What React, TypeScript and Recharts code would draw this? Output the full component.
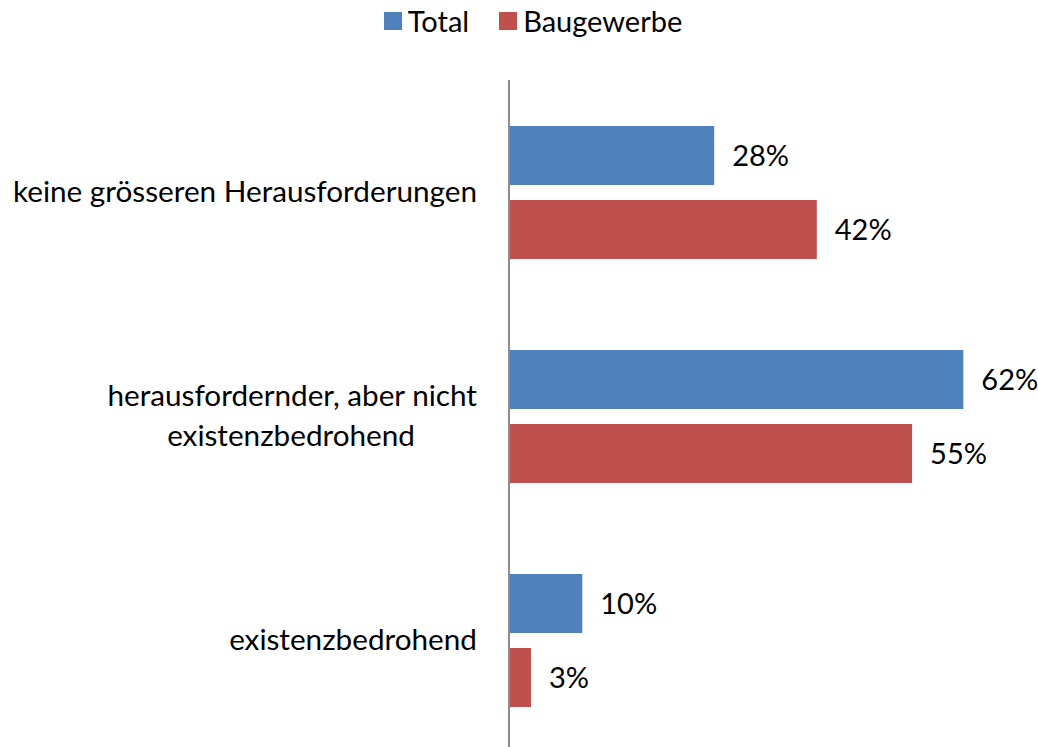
import { Bar, BarChart, LabelList, Legend, XAxis, YAxis } from "recharts";

const categories = [
  ["keine grösseren Herausforderungen"],
  ["herausfordernder, aber nicht", "existenzbedrohend"],
  ["existenzbedrohend"],
];
const total = [28, 62, 10];
const baugewerbe = [42, 55, 3];

const data = categories.map((lines, i) => ({
  label: lines.join(" "),
  lines,
  total: total[i],
  baugewerbe: baugewerbe[i],
}));

const FONT = "Lato, 'Open Sans', sans-serif";
const BLUE = "#4F81BD";
const RED = "#C0504D";

const CategoryTick = (props: any) => {
  const { x, y, payload, index } = props;
  const lines: string[] = data[index]?.lines ?? [payload.value];
  const lh = 40;
  const start = y - ((lines.length - 1) * lh) / 2;
  return (
    <g>
      {lines.map((ln, i) => (
        <text
          key={i}
          x={x - 24 - (i > 0 ? 62 : 0)}
          y={start + i * lh}
          dy="0.35em"
          textAnchor="end"
          fill="#000"
          fontSize={29.7}
          fontFamily={FONT}
        >
          {ln}
        </text>
      ))}
    </g>
  );
};

const LegendBox = () => (
  <div
    style={{
      display: "flex",
      justifyContent: "center",
      gap: 30,
      paddingLeft: 44,
      fontFamily: FONT,
      fontSize: 29,
      lineHeight: "34px",
      color: "#000",
    }}
  >
    {[
      ["Total", BLUE],
      ["Baugewerbe", RED],
    ].map(([name, c]) => (
      <span key={name} style={{ display: "flex", alignItems: "center" }}>
        <span style={{ width: 18, height: 18, background: c, marginRight: 6 }} />
        {name}
      </span>
    ))}
  </div>
);

export default function App() {
  return (
    <div style={{ position: "absolute", left: 0, top: 0, width: 1038, height: 747, overflow: "hidden", background: "#fff" }}>
      <BarChart
        width={1038}
        height={752}
        data={data}
        layout="vertical"
        margin={{ top: 46, right: 16, left: 0, bottom: 0 }}
        barCategoryGap={45}
        barGap={15}
      >
        <XAxis type="number" domain={[0, 70]} hide />
        <YAxis
          type="category"
          dataKey="label"
          width={509}
          tick={<CategoryTick />}
          tickLine={false}
          axisLine={{ stroke: "#8C8C8C", strokeWidth: 2 }}
          interval={0}
        />
        <Legend
          verticalAlign="top"
          align="center"
          content={<LegendBox />}
          wrapperStyle={{ top: 4 }}
        />
        <Bar dataKey="total" fill={BLUE} isAnimationActive={false} barSize={59}>
          <LabelList
            dataKey="total"
            position="right"
            offset={18}
            formatter={(v: any) => `${v}%`}
            style={{ fontFamily: FONT, fontSize: 29, fill: "#000" }}
          />
        </Bar>
        <Bar dataKey="baugewerbe" fill={RED} isAnimationActive={false} barSize={59}>
          <LabelList
            dataKey="baugewerbe"
            position="right"
            offset={18}
            formatter={(v: any) => `${v}%`}
            style={{ fontFamily: FONT, fontSize: 29, fill: "#000" }}
          />
        </Bar>
      </BarChart>
    </div>
  );
}
